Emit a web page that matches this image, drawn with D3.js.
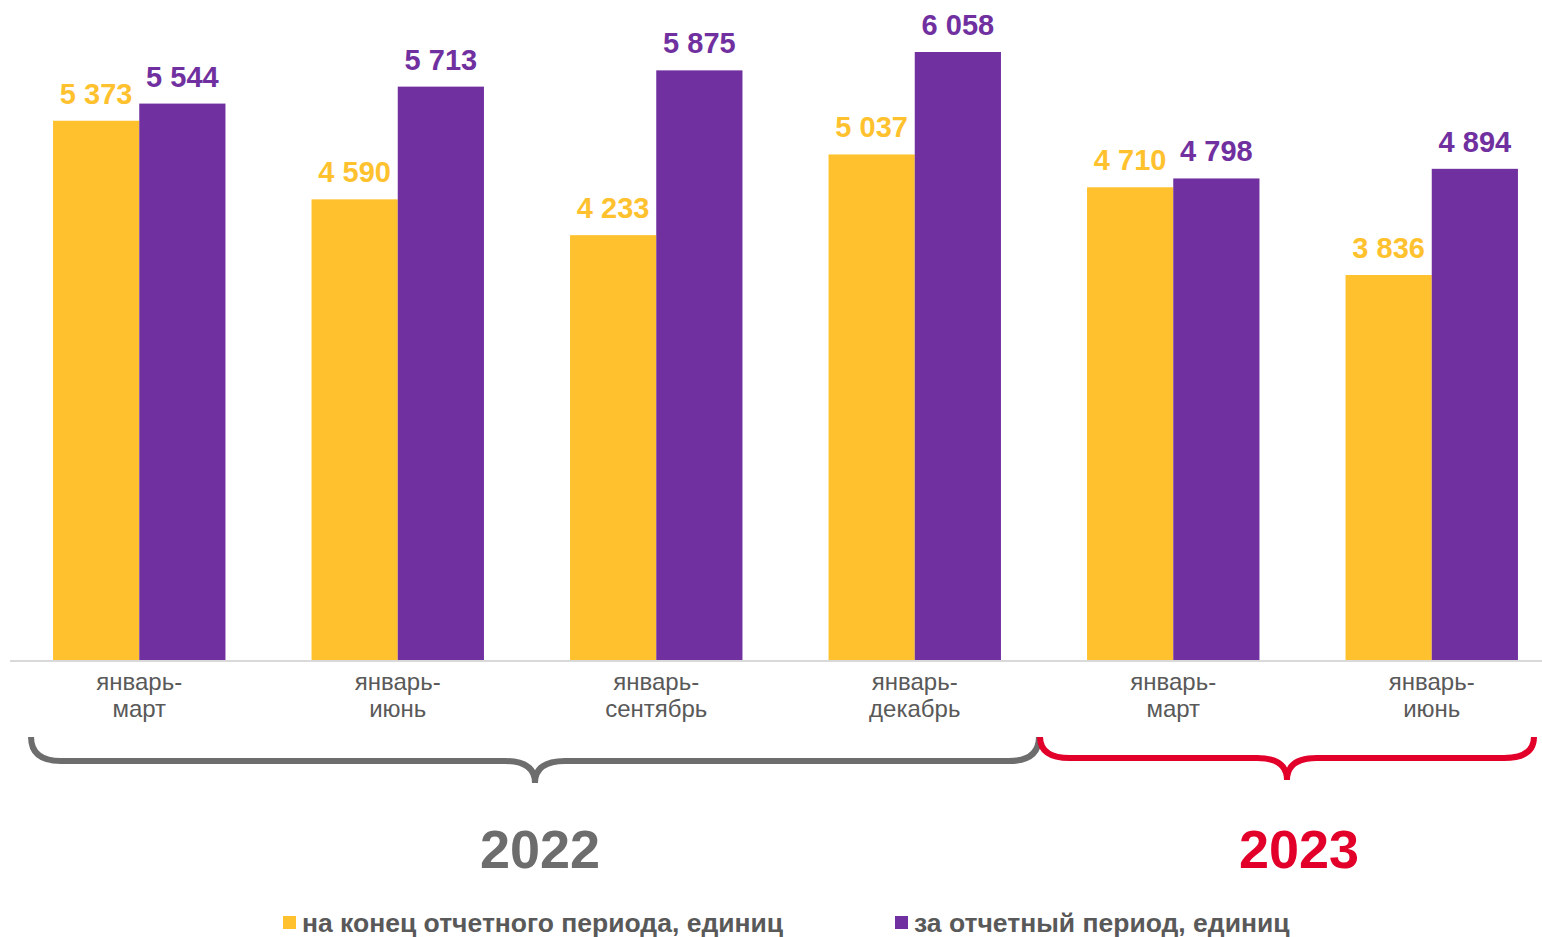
<!DOCTYPE html>
<html>
<head>
<meta charset="utf-8">
<script src="https://cdn.jsdelivr.net/npm/d3@7/dist/d3.min.js"></script>
<style>
html,body{margin:0;padding:0;background:#fff;}
svg{display:block;font-family:"Liberation Sans",Arial,sans-serif;}
</style>
</head>
<body>
<svg id="chart" width="1542" height="937"></svg>
<script>
const categories = [
  ["январь-","март"],
  ["январь-","июнь"],
  ["январь-","сентябрь"],
  ["январь-","декабрь"],
  ["январь-","март"],
  ["январь-","июнь"]
];
const seriesNames = ["на конец отчетного периода, единиц", "за отчетный период, единиц"];
const endOfPeriod = [5373, 4590, 4233, 5037, 4710, 3836];
const forPeriod = [5544, 5713, 5875, 6058, 4798, 4894];
const yearLabels = ["2022", "2023"];
const yearFrom = [0, 4];
const yearTo = [3, 5];
const yearColors = ["#6d6d6d", "#e2002b"];
const colors = ["#FFC22E", "#7030A0"];

const svg = d3.select("#chart");
const baseY = 660;
const x = d3.scaleBand().domain(d3.range(categories.length)).range([10, 1561]).paddingInner(0.333).paddingOuter(0.1665);
const y = d3.scaleLinear().domain([0, 6058]).range([baseY, 52]);
const xs = d3.scaleBand().domain([0,1]).range([0, x.bandwidth()]);

const fmt = v => d3.format(",")(v).replace(/,/g, " ");

const series = [endOfPeriod, forPeriod];
series.forEach((vals, si) => {
  const g = svg.append("g");
  g.selectAll("rect").data(vals).join("rect")
    .attr("x", (d,i) => x(i) + xs(si))
    .attr("y", d => y(d))
    .attr("width", xs.bandwidth())
    .attr("height", d => baseY - y(d))
    .attr("fill", colors[si]);
  g.selectAll("text").data(vals).join("text")
    .attr("x", (d,i) => x(i) + xs(si) + xs.bandwidth()/2)
    .attr("y", d => y(d) - 17)
    .attr("text-anchor", "middle")
    .attr("font-size", 29)
    .attr("font-weight", "bold")
    .attr("fill", colors[si])
    .text(d => fmt(d));
});

// axis line
svg.append("line").attr("x1", 10).attr("x2", 1542).attr("y1", baseY + 1).attr("y2", baseY + 1)
  .attr("stroke", "#d9d9d9").attr("stroke-width", 2);

// category labels
const cl = svg.append("g");
categories.forEach((c, i) => {
  const cx = x(i) + x.bandwidth()/2;
  const t = cl.append("text")
    .attr("x", cx)
    .attr("y", 690)
    .attr("text-anchor", "middle")
    .attr("font-size", 24)
    .attr("fill", "#595959");
  c.forEach((line, li) => {
    t.append("tspan").attr("x", cx).attr("dy", li === 0 ? 0 : 27).text(line);
  });
});

// braces
function bracePath(x1, x2, yTop, yMid, yTip) {
  const cx = (x1 + x2) / 2;
  const r = 30;
  const r2 = 30;
  return `M${x1},${yTop} Q${x1},${yMid} ${x1 + r},${yMid} L${cx - r2},${yMid} Q${cx},${yMid} ${cx},${yTip} Q${cx},${yMid} ${cx + r2},${yMid} L${x2 - r},${yMid} Q${x2},${yMid} ${x2},${yTop}`;
}
const bw = x.bandwidth();
const braceX1 = [x(yearFrom[0]) - 22, x(yearFrom[1]) - 47];
const braceX2 = [x(yearTo[0]) + bw + 38, x(yearTo[1]) + bw + 16];
const braceMid = [761, 758];
const braceTip = [783, 780];
yearLabels.forEach((lab, k) => {
  svg.append("path")
    .attr("d", bracePath(braceX1[k], braceX2[k], 737, braceMid[k], braceTip[k]))
    .attr("fill", "none")
    .attr("stroke", yearColors[k])
    .attr("stroke-width", 6);
});
const yearX = [540, 1299];
yearLabels.forEach((lab, k) => {
  svg.append("text").attr("x", yearX[k]).attr("y", 868).attr("text-anchor", "middle")
    .attr("font-size", 54).attr("font-weight", "bold").attr("fill", yearColors[k]).text(lab);
});

// legend
const legendX = [283, 895];
seriesNames.forEach((n, i) => {
  svg.append("rect").attr("x", legendX[i]).attr("y", 916).attr("width", 13).attr("height", 13).attr("fill", colors[i]);
  svg.append("text").attr("x", legendX[i] + 19).attr("y", 932)
    .attr("font-size", 26.5).attr("font-weight", "bold").attr("fill", "#595959").text(n);
});
</script>
</body>
</html>
